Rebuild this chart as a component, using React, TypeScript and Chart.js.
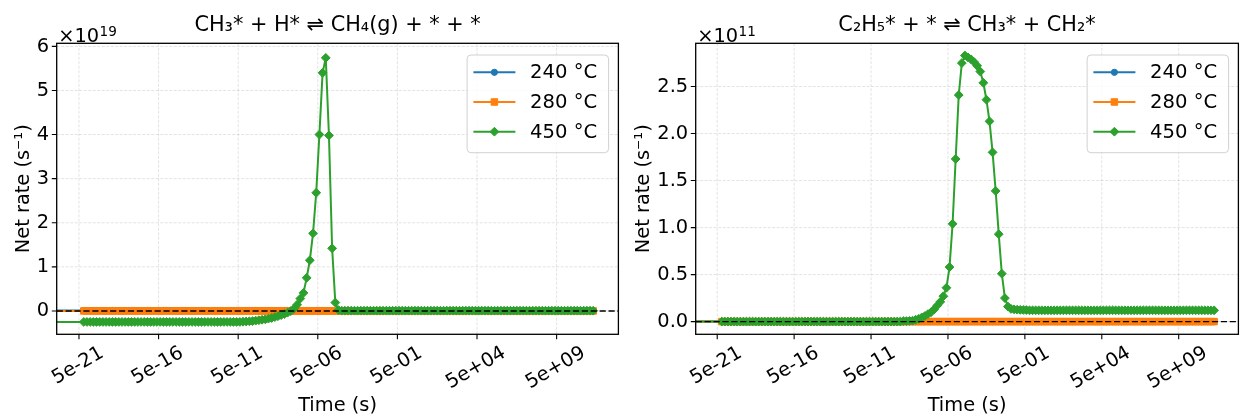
import React, { useEffect, useRef } from 'react';
import { Chart, registerables } from 'chart.js';

Chart.register(...registerables);

// ---------------- data ----------------
// log10 of the sampled times (s); a t = 0 sample precedes them
const logTime = [
  -20.0, -19.8, -19.6, -19.4, -19.2, -19.0, -18.8, -18.6, -18.4, -18.2,
  -18.0, -17.8, -17.6, -17.4, -17.2, -17.0, -16.8, -16.6, -16.4, -16.2,
  -16.0, -15.8, -15.6, -15.4, -15.2, -15.0, -14.8, -14.6, -14.4, -14.2,
  -14.0, -13.8, -13.6, -13.4, -13.2, -13.0, -12.8, -12.6, -12.4, -12.2,
  -12.0, -11.8, -11.6, -11.4, -11.2, -11.0, -10.8, -10.6, -10.4, -10.2,
  -10.0, -9.8, -9.6, -9.4, -9.2, -9.0, -8.8, -8.6, -8.4, -8.2,
  -8.0, -7.8, -7.6, -7.4, -7.2, -7.0, -6.8, -6.6, -6.4, -6.2,
  -6.0, -5.8, -5.6, -5.4, -5.2, -5.0, -4.8, -4.6, -4.4, -4.2,
  -4.0, -3.8, -3.6, -3.4, -3.2, -3.0, -2.8, -2.6, -2.4, -2.2,
  -2.0, -1.8, -1.6, -1.4, -1.2, -1.0, -0.8, -0.6, -0.4, -0.2,
  0.0, 0.2, 0.4, 0.6, 0.8, 1.0, 1.2, 1.4, 1.6, 1.8,
  2.0, 2.2, 2.4, 2.6, 2.8, 3.0, 3.2, 3.4, 3.6, 3.8,
  4.0, 4.2, 4.4, 4.6, 4.8, 5.0, 5.2, 5.4, 5.6, 5.8,
  6.0, 6.2, 6.4, 6.6, 6.8, 7.0, 7.2, 7.4, 7.6, 7.8,
  8.0, 8.2, 8.4, 8.6, 8.8, 9.0, 9.2, 9.4, 9.6, 9.8,
  10.0, 10.2, 10.4, 10.6, 10.8, 11.0, 11.2, 11.4, 11.6, 11.8,
  12.0,
];
const timeSeconds = [0, ...logTime.map((e) => Math.pow(10, e))];

// Left panel: CH3* + H* <=> CH4(g) + * + *   (units of 1e19 s^-1)
const left240 = [
  0.01,
  0.01, 0.01, 0.01, 0.01, 0.01, 0.01, 0.01, 0.01, 0.01, 0.01,
  0.01, 0.01, 0.01, 0.01, 0.01, 0.01, 0.01, 0.01, 0.01, 0.01,
  0.01, 0.01, 0.01, 0.01, 0.01, 0.01, 0.01, 0.01, 0.01, 0.01,
  0.01, 0.01, 0.01, 0.01, 0.01, 0.01, 0.01, 0.01, 0.01, 0.01,
  0.01, 0.01, 0.01, 0.01, 0.01, 0.01, 0.01, 0.01, 0.01, 0.01,
  0.01, 0.01, 0.01, 0.01, 0.01, 0.01, 0.01, 0.01, 0.01, 0.01,
  0.01, 0.01, 0.01, 0.01, 0.01, 0.01, 0.01, 0.01, 0.01, 0.01,
  0.01, 0.01, 0.01, 0.01, 0.01, 0.01, 0.01, 0.01, 0.01, 0.01,
  0, 0, 0, 0, 0, 0, 0, 0, 0, 0,
  0, 0, 0, 0, 0, 0, 0, 0, 0, 0,
  0, 0, 0, 0, 0, 0, 0, 0, 0, 0,
  0, 0, 0, 0, 0, 0, 0, 0, 0, 0,
  0, 0, 0, 0, 0, 0, 0, 0, 0, 0,
  0, 0, 0, 0, 0, 0, 0, 0, 0, 0,
  0, 0, 0, 0, 0, 0, 0, 0, 0, 0,
  0, 0, 0, 0, 0, 0, 0, 0, 0, 0,
  0,
];
const left280 = [
  0,
  0, 0, 0, 0, 0, 0, 0, 0, 0, 0,
  0, 0, 0, 0, 0, 0, 0, 0, 0, 0,
  0, 0, 0, 0, 0, 0, 0, 0, 0, 0,
  0, 0, 0, 0, 0, 0, 0, 0, 0, 0,
  0, 0, 0, 0, 0, 0, 0, 0, 0, 0,
  0, 0, 0, 0, 0, 0, 0, 0, 0, 0,
  0, 0, 0, 0, 0, 0, 0, 0, 0, 0,
  0, 0, 0, 0, 0, 0, 0, 0, 0, 0,
  0, 0, 0, 0, 0, 0, 0, 0, 0, 0,
  0, 0, 0, 0, 0, 0, 0, 0, 0, 0,
  0, 0, 0, 0, 0, 0, 0, 0, 0, 0,
  0, 0, 0, 0, 0, 0, 0, 0, 0, 0,
  0, 0, 0, 0, 0, 0, 0, 0, 0, 0,
  0, 0, 0, 0, 0, 0, 0, 0, 0, 0,
  0, 0, 0, 0, 0, 0, 0, 0, 0, 0,
  0, 0, 0, 0, 0, 0, 0, 0, 0, 0,
  0,
];
const left450 = [
  -0.25,
  -0.25, -0.25, -0.25, -0.25, -0.25, -0.25, -0.25, -0.25, -0.25, -0.25,
  -0.25, -0.25, -0.25, -0.25, -0.25, -0.25, -0.25, -0.25, -0.25, -0.25,
  -0.25, -0.25, -0.25, -0.25, -0.25, -0.25, -0.25, -0.25, -0.25, -0.25,
  -0.25, -0.25, -0.25, -0.25, -0.25, -0.25, -0.25, -0.25, -0.25, -0.25,
  -0.25, -0.25, -0.25, -0.25, -0.25, -0.25, -0.25, -0.25, -0.25, -0.25,
  -0.245, -0.24, -0.235, -0.23, -0.22, -0.21, -0.2, -0.19, -0.175, -0.16,
  -0.14, -0.12, -0.095, -0.07, -0.04, -0.005, 0.05, 0.14, 0.28, 0.41,
  0.75, 1.15, 1.76, 2.68, 4.0, 5.4, 5.74, 3.98, 1.42, 0.19,
  0.02, 0.005, 0.005, 0.005, 0.005, 0.005, 0.005, 0.005, 0.005, 0.005,
  0.005, 0.005, 0.005, 0.005, 0.005, 0.005, 0.005, 0.005, 0.005, 0.005,
  0.005, 0.005, 0.005, 0.005, 0.005, 0.005, 0.005, 0.005, 0.005, 0.005,
  0.005, 0.005, 0.005, 0.005, 0.005, 0.005, 0.005, 0.005, 0.005, 0.005,
  0.005, 0.005, 0.005, 0.005, 0.005, 0.005, 0.005, 0.005, 0.005, 0.005,
  0.005, 0.005, 0.005, 0.005, 0.005, 0.005, 0.005, 0.005, 0.005, 0.005,
  0.005, 0.005, 0.005, 0.005, 0.005, 0.005, 0.005, 0.005, 0.005, 0.005,
  0.005, 0.005, 0.005, 0.005, 0.005, 0.005, 0.005, 0.005, 0.005, 0.005,
  0.005,
];

// Right panel: C2H5* + * <=> CH3* + CH2*   (units of 1e11 s^-1)
const right240 = [
  0,
  0, 0, 0, 0, 0, 0, 0, 0, 0, 0,
  0, 0, 0, 0, 0, 0, 0, 0, 0, 0,
  0, 0, 0, 0, 0, 0, 0, 0, 0, 0,
  0, 0, 0, 0, 0, 0, 0, 0, 0, 0,
  0, 0, 0, 0, 0, 0, 0, 0, 0, 0,
  0, 0, 0, 0, 0, 0, 0, 0, 0, 0,
  0, 0, 0, 0, 0, 0, 0, 0, 0, 0,
  0, 0, 0, 0, 0, 0, 0, 0, 0, 0,
  0, 0, 0, 0, 0, 0, 0, 0, 0, 0,
  0, 0, 0, 0, 0, 0, 0, 0, 0, 0,
  0, 0, 0, 0, 0, 0, 0, 0, 0, 0,
  0, 0, 0, 0, 0, 0, 0, 0, 0, 0,
  0, 0, 0, 0, 0, 0, 0, 0, 0, 0,
  0, 0, 0, 0, 0, 0, 0, 0, 0, 0,
  0, 0, 0, 0, 0, 0, 0, 0, 0, 0,
  0, 0, 0, 0, 0, 0, 0, 0, 0, 0,
  0,
];
const right280 = [
  0,
  0, 0, 0, 0, 0, 0, 0, 0, 0, 0,
  0, 0, 0, 0, 0, 0, 0, 0, 0, 0,
  0, 0, 0, 0, 0, 0, 0, 0, 0, 0,
  0, 0, 0, 0, 0, 0, 0, 0, 0, 0,
  0, 0, 0, 0, 0, 0, 0, 0, 0, 0,
  0, 0, 0, 0, 0, 0, 0, 0, 0, 0,
  0, 0, 0, 0, 0, 0, 0, 0, 0, 0,
  0, 0, 0, 0, 0, 0, 0, 0, 0, 0,
  0, 0, 0, 0, 0, 0, 0, 0, 0, 0,
  0, 0, 0, 0, 0, 0, 0, 0, 0, 0,
  0, 0, 0, 0, 0, 0, 0, 0, 0, 0,
  0, 0, 0, 0, 0, 0, 0, 0, 0, 0,
  0, 0, 0, 0, 0, 0, 0, 0, 0, 0,
  0, 0, 0, 0, 0, 0, 0, 0, 0, 0,
  0, 0, 0, 0, 0, 0, 0, 0, 0, 0,
  0, 0, 0, 0, 0, 0, 0, 0, 0, 0,
  0,
];
const right450 = [
  0,
  0, 0, 0, 0, 0, 0, 0, 0, 0, 0,
  0, 0, 0, 0, 0, 0, 0, 0, 0, 0,
  0, 0, 0, 0, 0, 0, 0, 0, 0, 0,
  0, 0, 0, 0, 0, 0, 0, 0, 0, 0,
  0, 0, 0, 0, 0, 0, 0, 0, 0, 0,
  0, 0, 0, 0, 0, 0, 0, 0, 0, 0.005,
  0.005, 0.008, 0.01, 0.02, 0.03, 0.045, 0.06, 0.08, 0.1, 0.13,
  0.17, 0.21, 0.27, 0.36, 0.58, 1.04, 1.73, 2.41, 2.75, 2.83,
  2.81, 2.79, 2.76, 2.72, 2.66, 2.54, 2.36, 2.13, 1.8, 1.39,
  0.93, 0.51, 0.25, 0.16, 0.135, 0.13, 0.127, 0.125, 0.124, 0.123,
  0.12, 0.12, 0.12, 0.12, 0.12, 0.12, 0.12, 0.12, 0.12, 0.12,
  0.12, 0.12, 0.12, 0.12, 0.12, 0.12, 0.12, 0.12, 0.12, 0.12,
  0.12, 0.12, 0.12, 0.12, 0.12, 0.12, 0.12, 0.12, 0.12, 0.12,
  0.12, 0.12, 0.12, 0.12, 0.12, 0.12, 0.12, 0.12, 0.12, 0.12,
  0.12, 0.12, 0.12, 0.12, 0.12, 0.12, 0.12, 0.12, 0.12, 0.12,
  0.12, 0.12, 0.12, 0.12, 0.12, 0.12, 0.12, 0.12, 0.12, 0.12,
  0.12,
];

const xTickValues = [5e-21, 5e-16, 5e-11, 5e-6, 5e-1, 5e4, 5e9];
const xTickLabels = ['5e-21', '5e-16', '5e-11', '5e-06', '5e-01', '5e+04', '5e+09'];
const leftYTicks = [0, 1, 2, 3, 4, 5, 6];
const leftYTickLabels = ['0', '1', '2', '3', '4', '5', '6'];
const rightYTicks = [0, 0.5, 1, 1.5, 2, 2.5];
const rightYTickLabels = ['0.0', '0.5', '1.0', '1.5', '2.0', '2.5'];
const seriesLabels = ['240 °C', '280 °C', '450 °C'];
const leftTitle = 'CH₃* + H* ⇌ CH₄(g) + * + *';
const rightTitle = 'C₂H₅* + * ⇌ CH₃* + CH₂*';
const xAxisLabel = 'Time (s)';
const yAxisLabel = 'Net rate (s⁻¹)';

// ---------------- style ----------------
const FONT = '"DejaVu Sans", "Liberation Sans", sans-serif';
const TICK_FONT = 19.4;
const LABEL_FONT = 19.4;
const TITLE_FONT = 20.8;
const LEGEND_FONT = 19.6;
const TICK_LEN = 4.9;
const COLORS = ['#1f77b4', '#ff7f0e', '#2ca02c'];
const MARKERS = ['circle', 'rect', 'rectRot'];
const MARKER_R = [3.1, 4.6, 4.4];
const X_MIN = Math.pow(10, -21.7);
const X_MAX = Math.pow(10, 13.58);
const H = 419;

type PanelSpec = {
  key: string;
  canvasLeft: number;
  canvasWidth: number;
  padding: { left: number; right: number; top: number; bottom: number };
  yMin: number;
  yMax: number;
  yTicks: number[];
  yTickLabels: string[];
  title: string;
  exponent: string;
  series: number[][];
};

const panels: PanelSpec[] = [
  {
    key: 'left',
    canvasLeft: 0,
    canvasWidth: 624,
    padding: { left: 56.7, right: 1.7, top: 43.3, bottom: 84.7 },
    yMin: -0.53,
    yMax: 6.07,
    yTicks: leftYTicks,
    yTickLabels: leftYTickLabels,
    title: leftTitle,
    exponent: '19',
    series: [left240, left280, left450],
  },
  {
    key: 'right',
    canvasLeft: 624,
    canvasWidth: 620,
    padding: { left: 71.7, right: 2.5, top: 43.3, bottom: 84.7 },
    yMin: -0.135,
    yMax: 2.96,
    yTicks: rightYTicks,
    yTickLabels: rightYTickLabels,
    title: rightTitle,
    exponent: '11',
    series: [right240, right280, right450],
  },
];

function drawMarker(ctx: CanvasRenderingContext2D, kind: string, x: number, y: number, color: string, r: number) {
  ctx.save();
  ctx.fillStyle = color;
  ctx.strokeStyle = color;
  ctx.lineWidth = 1;
  ctx.setLineDash([]);
  ctx.beginPath();
  if (kind === 'circle') {
    ctx.arc(x, y, r, 0, Math.PI * 2);
  } else if (kind === 'rect') {
    const s = r * Math.SQRT1_2;
    ctx.rect(x - s, y - s, 2 * s, 2 * s);
  } else {
    ctx.moveTo(x - r, y);
    ctx.lineTo(x, y - r);
    ctx.lineTo(x + r, y);
    ctx.lineTo(x, y + r);
    ctx.closePath();
  }
  ctx.fill();
  ctx.stroke();
  ctx.restore();
}

function makeDecor(panel: PanelSpec) {
  return {
    id: 'decor_' + panel.key,
    beforeDatasetsDraw(chart: any) {
      const { ctx, chartArea: a } = chart;
      const xs = chart.scales.x;
      const ys = chart.scales.y;
      ctx.save();
      ctx.strokeStyle = 'rgba(0,0,0,0.13)';
      ctx.lineWidth = 0.9;
      ctx.setLineDash([3, 1.5]);
      ctx.beginPath();
      for (const v of xTickValues) {
        const px = xs.getPixelForValue(v);
        ctx.moveTo(px, a.top);
        ctx.lineTo(px, a.bottom);
      }
      for (const v of panel.yTicks) {
        const py = ys.getPixelForValue(v);
        ctx.moveTo(a.left, py);
        ctx.lineTo(a.right, py);
      }
      ctx.stroke();
      ctx.restore();
    },
    afterDatasetsDraw(chart: any) {
      const { ctx, chartArea: a } = chart;
      const xs = chart.scales.x;
      const ys = chart.scales.y;
      const cx = (a.left + a.right) / 2;
      ctx.save();

      // dashed zero line
      const y0 = ys.getPixelForValue(0);
      ctx.strokeStyle = '#000';
      ctx.lineWidth = 1.4;
      ctx.setLineDash([6.2, 2.7]);
      ctx.beginPath();
      ctx.moveTo(a.left, y0);
      ctx.lineTo(a.right, y0);
      ctx.stroke();
      ctx.setLineDash([]);

      // spines
      ctx.lineWidth = 1.3;
      ctx.strokeStyle = '#000';
      ctx.strokeRect(a.left, a.top, a.right - a.left, a.bottom - a.top);

      // tick marks
      ctx.lineWidth = 1.1;
      ctx.beginPath();
      for (const v of xTickValues) {
        const px = xs.getPixelForValue(v);
        ctx.moveTo(px, a.bottom);
        ctx.lineTo(px, a.bottom + TICK_LEN);
      }
      for (const v of panel.yTicks) {
        const py = ys.getPixelForValue(v);
        ctx.moveTo(a.left - TICK_LEN, py);
        ctx.lineTo(a.left, py);
      }
      ctx.stroke();

      ctx.fillStyle = '#000';
      // y tick labels
      ctx.font = `${TICK_FONT}px ${FONT}`;
      ctx.textAlign = 'right';
      ctx.textBaseline = 'middle';
      let maxW = 0;
      panel.yTicks.forEach((v, i) => {
        const py = ys.getPixelForValue(v);
        ctx.fillText(panel.yTickLabels[i], a.left - 7.5, py + 0.5);
        maxW = Math.max(maxW, ctx.measureText(panel.yTickLabels[i]).width);
      });

      // x tick labels (rotated 30deg, centred on tick)
      const th = Math.PI / 6;
      ctx.textAlign = 'center';
      ctx.textBaseline = 'middle';
      xTickValues.forEach((v, i) => {
        const px = xs.getPixelForValue(v);
        const w = ctx.measureText(xTickLabels[i]).width;
        const h = TICK_FONT;
        const hh = (w / 2) * Math.sin(th) + (h / 2) * Math.cos(th);
        const cy = a.bottom + TICK_LEN + 4.2 + hh;
        ctx.save();
        ctx.translate(px - 1, cy);
        ctx.rotate(-th);
        ctx.fillText(xTickLabels[i], 0, 0);
        ctx.restore();
      });

      // offset text ×10^n
      ctx.textAlign = 'left';
      ctx.textBaseline = 'alphabetic';
      ctx.font = `${TICK_FONT}px ${FONT}`;
      const base = '×10';
      ctx.fillText(base, a.left + 1.5, 41.8);
      const bw = ctx.measureText(base).width;
      ctx.font = `${TICK_FONT * 0.7}px ${FONT}`;
      ctx.fillText(panel.exponent, a.left + 1.5 + bw + 0.5, 35.5);

      // title
      ctx.font = `${TITLE_FONT}px ${FONT}`;
      ctx.textAlign = 'center';
      ctx.fillText(panel.title, cx, 30.5);

      // x axis label
      ctx.font = `${LABEL_FONT}px ${FONT}`;
      ctx.fillText(xAxisLabel, cx, 410.5);

      // y axis label
      const lx = a.left - 7.5 - maxW - 5.6 - 2.5;
      ctx.save();
      ctx.translate(lx, (a.top + a.bottom) / 2);
      ctx.rotate(-Math.PI / 2);
      ctx.textAlign = 'center';
      ctx.textBaseline = 'alphabetic';
      ctx.fillText(yAxisLabel, 0, 0);
      ctx.restore();

      // legend
      const lw = 141.5;
      const lh = 97.7;
      const lxL = a.right - 9.8 - lw;
      const lyT = a.top + 11.7;
      const r = 4;
      ctx.beginPath();
      ctx.moveTo(lxL + r, lyT);
      ctx.lineTo(lxL + lw - r, lyT);
      ctx.quadraticCurveTo(lxL + lw, lyT, lxL + lw, lyT + r);
      ctx.lineTo(lxL + lw, lyT + lh - r);
      ctx.quadraticCurveTo(lxL + lw, lyT + lh, lxL + lw - r, lyT + lh);
      ctx.lineTo(lxL + r, lyT + lh);
      ctx.quadraticCurveTo(lxL, lyT + lh, lxL, lyT + lh - r);
      ctx.lineTo(lxL, lyT + r);
      ctx.quadraticCurveTo(lxL, lyT, lxL + r, lyT);
      ctx.closePath();
      ctx.fillStyle = 'rgba(255,255,255,0.8)';
      ctx.fill();
      ctx.strokeStyle = 'rgba(204,204,204,0.9)';
      ctx.lineWidth = 1;
      ctx.stroke();

      ctx.font = `${LEGEND_FONT}px ${FONT}`;
      ctx.textAlign = 'left';
      ctx.textBaseline = 'middle';
      seriesLabels.forEach((lab, i) => {
        const ry = lyT + 17.3 + i * 29.7;
        ctx.strokeStyle = COLORS[i];
        ctx.lineWidth = 2;
        ctx.beginPath();
        ctx.moveTo(lxL + 6.3, ry);
        ctx.lineTo(lxL + 48.3, ry);
        ctx.stroke();
        drawMarker(ctx, MARKERS[i], lxL + 27.3, ry, COLORS[i], MARKER_R[i]);
        ctx.fillStyle = '#000';
        ctx.fillText(lab, lxL + 63, ry + 1);
      });

      ctx.restore();
    },
  };
}

function PanelChart({ panel }: { panel: PanelSpec }) {
  const ref = useRef<HTMLCanvasElement | null>(null);
  useEffect(() => {
    if (!ref.current) return;
    const order = [3, 2, 1];
    const datasets = panel.series.map((vals, si) => ({
      label: seriesLabels[si],
      data: timeSeconds.map((t, i) => ({ x: t, y: vals[i] })),
      borderColor: COLORS[si],
      backgroundColor: COLORS[si],
      pointBackgroundColor: COLORS[si],
      pointBorderColor: COLORS[si],
      borderWidth: 2,
      borderJoinStyle: 'round' as const,
      pointStyle: MARKERS[si],
      pointRadius: (c: any) => (c.dataIndex === 0 ? 0 : MARKER_R[si]),
      pointHoverRadius: 0,
      pointBorderWidth: 1,
      tension: 0,
      fill: false,
      order: order[si],
    }));
    const chart = new Chart(ref.current, {
      type: 'line',
      data: { datasets },
      options: {
        responsive: false,
        maintainAspectRatio: false,
        devicePixelRatio: 1,
        animation: false,
        events: [],
        layout: { padding: panel.padding },
        plugins: {
          legend: { display: false },
          title: { display: false },
          tooltip: { enabled: false },
        },
        scales: {
          x: {
            type: 'logarithmic',
            min: X_MIN,
            max: X_MAX,
            display: false,
          },
          y: {
            type: 'linear',
            min: panel.yMin,
            max: panel.yMax,
            display: false,
          },
        },
      } as any,
      plugins: [makeDecor(panel)],
    });
    return () => chart.destroy();
  }, [panel]);
  return (
    <canvas
      ref={ref}
      width={panel.canvasWidth}
      height={H}
      style={{
        position: 'absolute',
        left: panel.canvasLeft,
        top: 0,
        width: panel.canvasWidth,
        height: H,
      }}
    />
  );
}

export default function App() {
  return (
    <div
      style={{
        position: 'absolute',
        left: 0,
        top: 0,
        width: 1244,
        height: H,
        background: '#ffffff',
        overflow: 'hidden',
      }}
    >
      {panels.map((p) => (
        <PanelChart key={p.key} panel={p} />
      ))}
    </div>
  );
}
